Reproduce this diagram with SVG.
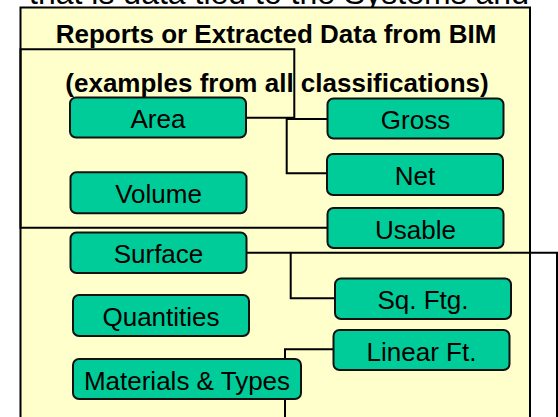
<svg xmlns="http://www.w3.org/2000/svg" width="558" height="417" viewBox="0 0 558 417">
  <style>
    .frame { fill: #FFFFCC; stroke: #000; stroke-width: 2; }
    .wire { fill: none; stroke: #000; stroke-width: 2; }
    .node rect { fill: #00CC99; stroke: #111; stroke-width: 2; }
    .node text { font-family: "Liberation Sans", Arial, sans-serif; font-size: 26px; fill: #000; text-anchor: middle; }
    .head { font-family: "Liberation Sans", Arial, sans-serif; font-size: 26px; font-weight: bold; fill: #000; text-anchor: middle; }
    .lead { font-family: "Liberation Sans", Arial, sans-serif; font-size: 32px; fill: #000; text-anchor: middle; }
  </style>
  <rect width="558" height="417" fill="#FFFFFF"/>

  <!-- line of text running off the top edge -->
  <text class="lead" x="279" y="4">that is data tied to the Systems and</text>

  <!-- main panel -->
  <rect id="panel" class="frame" x="20.5" y="7.5" width="509.5" height="420"/>
  <text class="head" x="276" y="43">Reports or Extracted Data from BIM</text>
  <text class="head" x="277" y="92">(examples from all classifications)</text>

  <!-- connectors -->
  <g id="connectors">
    <path class="wire" d="M246,117.7 H294.3 V49.3 H20.5 V227.7 H328"/>
    <path class="wire" d="M328,119 H286.7 V173.3 H328"/>
    <path class="wire" d="M246.5,252.7 H557 V417"/>
    <path class="wire" d="M290.7,252.7 V298.3 H335"/>
    <path class="wire" d="M333.5,349.3 H285 V417"/>
  </g>

  <!-- nodes -->
  <g id="area" class="node">
    <rect x="70" y="97.5" width="176" height="40" rx="6"/>
    <text x="158" y="128">Area</text>
  </g>
  <g id="gross" class="node">
    <rect x="327.5" y="98.5" width="176" height="40" rx="6"/>
    <text x="415.5" y="129">Gross</text>
  </g>
  <g id="net" class="node">
    <rect x="327" y="154" width="176" height="41" rx="6"/>
    <text x="415" y="185">Net</text>
  </g>
  <g id="volume" class="node">
    <rect x="70.5" y="172.3" width="176" height="41" rx="6"/>
    <text x="158.5" y="203">Volume</text>
  </g>
  <g id="usable" class="node">
    <rect x="327.5" y="208" width="176" height="40" rx="6"/>
    <text x="415.5" y="238.5">Usable</text>
  </g>
  <g id="surface" class="node">
    <rect x="70.5" y="232.5" width="176" height="40.5" rx="6"/>
    <text x="158.5" y="263">Surface</text>
  </g>
  <g id="sq-ftg" class="node">
    <rect x="335" y="278.5" width="176" height="40.5" rx="6"/>
    <text x="423" y="309">Sq. Ftg.</text>
  </g>
  <g id="quantities" class="node">
    <rect x="73" y="295" width="176" height="41" rx="6"/>
    <text x="161" y="326">Quantities</text>
  </g>
  <g id="linear-ft" class="node">
    <rect x="333.5" y="330" width="176" height="40" rx="6"/>
    <text x="421.5" y="360.5">Linear Ft.</text>
  </g>
  <g id="materials-types" class="node">
    <rect x="73" y="359" width="228" height="40" rx="6"/>
    <text x="187" y="389.5">Materials &amp; Types</text>
  </g>
</svg>
